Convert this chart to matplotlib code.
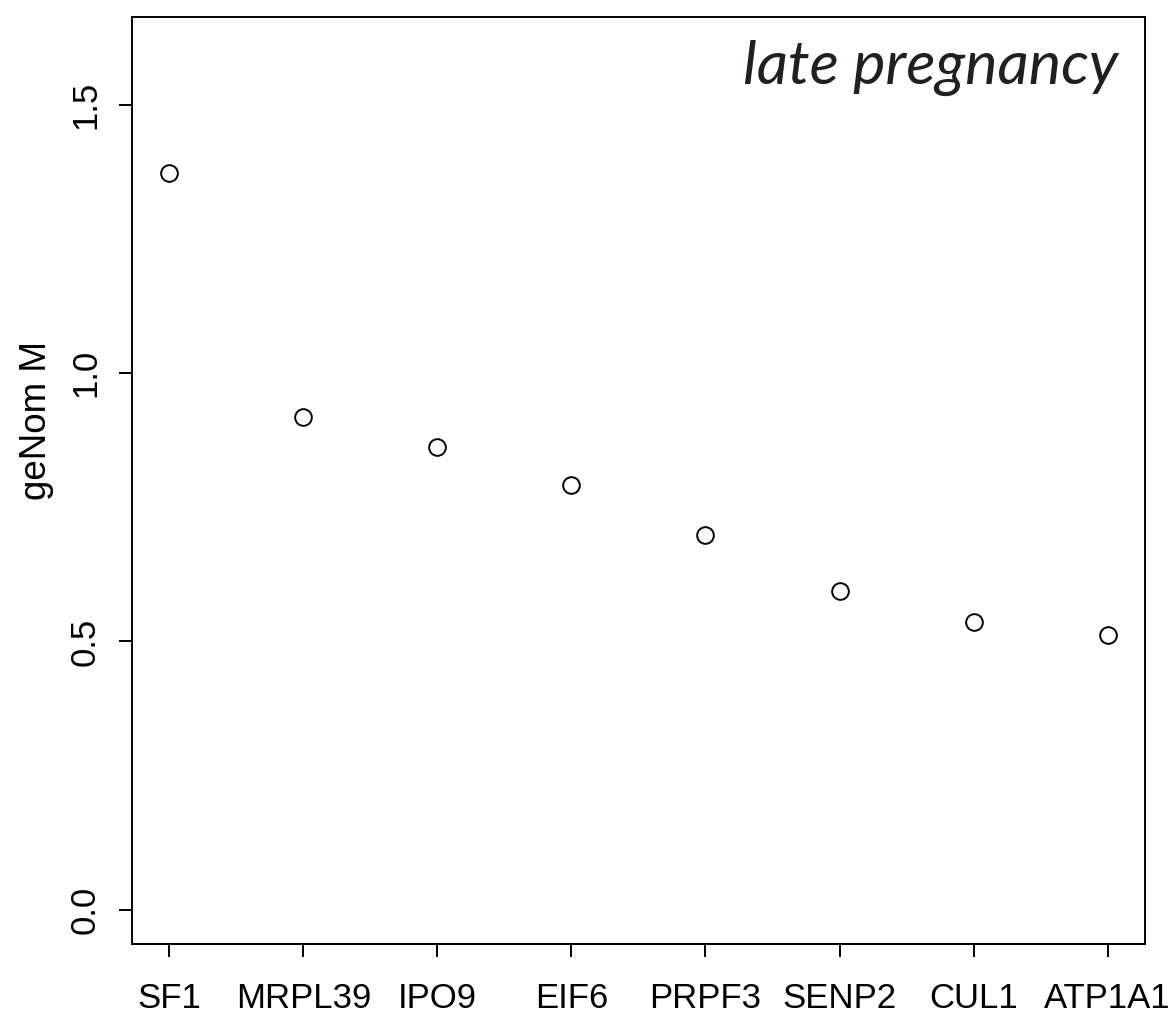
import numpy as np
import matplotlib.pyplot as plt

plt.rcParams['font.family'] = ['Liberation Sans', 'DejaVu Sans']

genes = ['SF1', 'MRPL39', 'IPO9', 'EIF6', 'PRPF3', 'SENP2', 'CUL1', 'ATP1A1']
m_values = [1.373, 0.918, 0.862, 0.792, 0.699, 0.594, 0.536, 0.512]

x_pos = np.arange(1, len(genes) + 1)

fig = plt.figure(figsize=(11.75, 10.21), dpi=100)
ax = fig.add_axes([0.1123, 0.0754, 0.8622, 0.9079])

ax.plot(x_pos, m_values, linestyle='none', marker='o', markersize=12,
        markerfacecolor='white', markeredgecolor='black', markeredgewidth=1.4)

ax.set_xlim(0.72, 8.28)
ax.set_ylim(-0.064, 1.664)
ax.set_xticks(x_pos)
ax.set_xticklabels(genes)
ax.set_yticks([0.0, 0.5, 1.0, 1.5])
ax.set_yticklabels(['0.0', '0.5', '1.0', '1.5'], rotation=90, va='center')

ax.tick_params(axis='both', labelsize=25, length=9.5, width=1.4, direction='out')
ax.tick_params(axis='x', pad=18)
ax.tick_params(axis='y', pad=12)
for s in ax.spines.values():
    s.set_linewidth(1.4)

ax.set_ylabel('geNom M', fontsize=26.5)
ax.yaxis.set_label_coords(-0.077, 0.565)

ax.text(0.973, 0.975, 'late pregnancy', transform=ax.transAxes,
        ha='right', va='top', fontsize=44, style='italic',
        family=['Lato', 'DejaVu Sans'], color='#231f20')

fig.savefig('out.png', dpi=100)
